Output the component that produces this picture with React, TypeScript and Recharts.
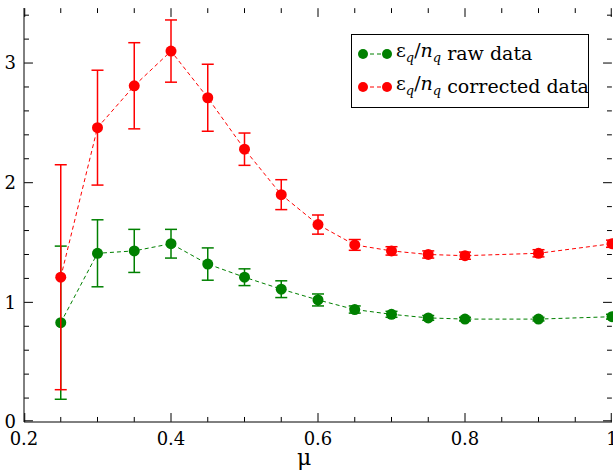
import React from 'react';
import { LineChart, Line, XAxis, YAxis, ReferenceLine } from 'recharts';

const mu = [0.25, 0.3, 0.35, 0.4, 0.45, 0.5, 0.55, 0.6, 0.65, 0.7, 0.75, 0.8, 0.9, 1.0];
const raw = [0.83, 1.41, 1.43, 1.49, 1.32, 1.21, 1.11, 1.02, 0.94, 0.9, 0.87, 0.86, 0.86, 0.88];
const rawErr = [0.64, 0.28, 0.18, 0.12, 0.135, 0.07, 0.07, 0.05, 0.03, 0.025, 0.02, 0.015, 0.015, 0.02];
const corr = [1.21, 2.46, 2.81, 3.1, 2.71, 2.28, 1.9, 1.65, 1.48, 1.43, 1.4, 1.39, 1.41, 1.49];
const corrErr = [0.94, 0.48, 0.36, 0.26, 0.28, 0.135, 0.125, 0.08, 0.045, 0.035, 0.03, 0.03, 0.03, 0.03];
const xMajor = [0.2, 0.4, 0.6, 0.8, 1];
const xMinor = [0.25, 0.3, 0.35, 0.45, 0.5, 0.55, 0.65, 0.7, 0.75, 0.85, 0.9, 0.95];
const yMajor = [0, 1, 2, 3];
const yMinor = [0.2, 0.4, 0.6, 0.8, 1.2, 1.4, 1.6, 1.8, 2.2, 2.4, 2.6, 2.8, 3.2, 3.4];

const data = mu.map((x, i) => ({ x, raw: raw[i], rawErr: rawErr[i], corr: corr[i], corrErr: corrErr[i] }));

const font = '"DejaVu Serif", serif';
const tickStyle = { fontSize: 18, fill: '#000', fontFamily: font };
const X_MIN = 0.2, X_MAX = 1, Y_MAX = 3.46;
const PX_PER_Y = 414 / Y_MAX; // plot height / y span
const EPS = 0.0015;
// inward tick lengths: x ticks in y units, y ticks in x units
const XT = 0.075, XTm = 0.042;
const YT = 0.0122, YTm = 0.0068;

// dot with its vertical error bar
const mkDot = (color: string, errKey: string) => (p: any) => {
  const { cx, cy, payload, index } = p;
  const h = payload[errKey] * PX_PER_Y;
  return (
    <g key={index}>
      <line x1={cx} y1={cy - h} x2={cx} y2={cy + h} stroke={color} strokeWidth={1.5} />
      <line x1={cx - 6} y1={cy - h} x2={cx + 6} y2={cy - h} stroke={color} strokeWidth={1.5} />
      <line x1={cx - 6} y1={cy + h} x2={cx + 6} y2={cy + h} stroke={color} strokeWidth={1.5} />
      <circle cx={cx} cy={cy} r={5.5} fill={color} />
    </g>
  );
};

const Eps = () => (
  <span>ε<sub style={{ fontSize: 13, fontStyle: 'italic' }}>q</sub>/<i>n</i><sub style={{ fontSize: 13, fontStyle: 'italic' }}>q</sub></span>
);

const Marker = ({ color }: { color: string }) => (
  <svg width={36} height={14} style={{ marginRight: 3, flexShrink: 0 }}>
    <line x1={6} y1={7} x2={30} y2={7} stroke={color} strokeDasharray="4 3" />
    <circle cx={6} cy={7} r={5} fill={color} />
    <circle cx={30} cy={7} r={5} fill={color} />
  </svg>
);

export default function App() {
  const ticks: React.ReactNode[] = [];
  const addX = (v: number, len: number) => {
    ticks.push(<ReferenceLine key={`xb${v}`} segment={[{ x: v, y: EPS }, { x: v, y: len }]} stroke="#000" ifOverflow="extendDomain" />);
    ticks.push(<ReferenceLine key={`xt${v}`} segment={[{ x: v, y: Y_MAX - EPS }, { x: v, y: Y_MAX - len }]} stroke="#000" ifOverflow="extendDomain" />);
  };
  const addY = (v: number, len: number) => {
    ticks.push(<ReferenceLine key={`yl${v}`} segment={[{ x: X_MIN + EPS / 10, y: v }, { x: X_MIN + len, y: v }]} stroke="#000" ifOverflow="extendDomain" />);
    ticks.push(<ReferenceLine key={`yr${v}`} segment={[{ x: X_MAX - EPS / 10, y: v }, { x: X_MAX - len, y: v }]} stroke="#000" ifOverflow="extendDomain" />);
  };
  xMajor.forEach((v) => addX(Math.min(Math.max(v, X_MIN + 0.001), X_MAX - 0.001), XT));
  xMinor.forEach((v) => addX(v, XTm));
  yMajor.forEach((v) => addY(Math.max(v, 0.01), YT));
  yMinor.forEach((v) => addY(v, YTm));
  return (
    <div style={{ position: 'absolute', left: 0, top: 0, width: 613, height: 472, background: '#fff' }}>
      <LineChart width={613} height={472} data={data} margin={{ top: 8, right: 1, left: 0, bottom: 20 }}
        style={{ fontFamily: font }}>
        <XAxis dataKey="x" type="number" domain={[X_MIN, X_MAX]} ticks={xMajor} tickLine={false}
          tick={tickStyle} tickMargin={4} height={30} stroke="#000" interval={0} />
        <XAxis xAxisId="t" dataKey="x" type="number" orientation="top" domain={[X_MIN, X_MAX]} tick={false} tickLine={false}
          height={0} stroke="#000" />
        <YAxis domain={[0, Y_MAX]} ticks={yMajor} tickLine={false} tick={tickStyle} tickMargin={2}
          width={24} stroke="#000" interval={0} allowDataOverflow />
        <YAxis yAxisId="r" orientation="right" domain={[0, Y_MAX]} tick={false} tickLine={false}
          width={0} stroke="#000" />
        {ticks}
        <Line dataKey="raw" stroke="#008000" strokeDasharray="4 3" strokeWidth={1}
          dot={mkDot('#008000', 'rawErr')} isAnimationActive={false} />
        <Line dataKey="corr" stroke="#ff0000" strokeDasharray="4 3" strokeWidth={1}
          dot={mkDot('#ff0000', 'corrErr')} isAnimationActive={false} />
      </LineChart>
      <div style={{ position: 'absolute', left: 351, top: 34, width: 238, height: 74, border: '1px solid #000',
        background: '#fff', fontFamily: font, fontSize: 19, boxSizing: 'border-box', padding: '2px 5px', lineHeight: '33px' }}>
        <div style={{ display: 'flex', alignItems: 'center', height: 33, whiteSpace: 'nowrap' }}><Marker color="#008000" /><Eps />&nbsp;raw data</div>
        <div style={{ display: 'flex', alignItems: 'center', height: 33, whiteSpace: 'nowrap' }}><Marker color="#ff0000" /><Eps />&nbsp;corrected data</div>
      </div>
      <div style={{ position: 'absolute', left: 297, top: 445, fontFamily: font, fontSize: 22 }}>μ</div>
    </div>
  );
}
